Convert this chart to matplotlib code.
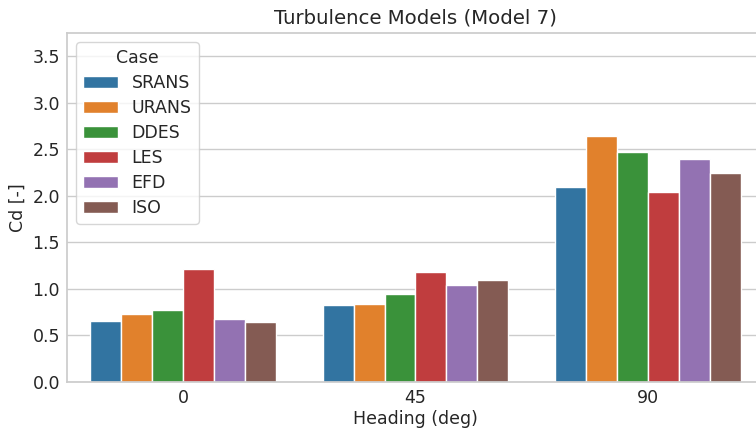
import numpy as np
import pandas as pd
import seaborn as sns
import matplotlib
matplotlib.use("Agg")
import matplotlib.pyplot as plt

headings = [0, 45, 90]
cases = ["SRANS", "URANS", "DDES", "LES", "EFD", "ISO"]
srans = [0.65, 0.83, 2.09]
urans = [0.73, 0.835, 2.64]
ddes = [0.77, 0.94, 2.47]
les = [1.21, 1.18, 2.04]
efd = [0.68, 1.04, 2.40]
iso = [0.645, 1.10, 2.24]

values = [srans, urans, ddes, les, efd, iso]
rows = []
for case, vals in zip(cases, values):
    for h, v in zip(headings, vals):
        rows.append({"Heading (deg)": h, "Cd [-]": v, "Case": case})
df = pd.DataFrame(rows)

sns.set_theme(style="whitegrid")
plt.rcParams['font.family'] = ['DejaVu Sans']

fig = plt.figure(figsize=(7.56, 4.29), dpi=100)
ax = fig.add_axes([0.0886, 0.110, 0.922, 0.813])

sns.barplot(data=df, x="Heading (deg)", y="Cd [-]", hue="Case", hue_order=cases,
            palette="tab10", ax=ax, saturation=0.75, edgecolor="white", linewidth=1)

ax.set_xlim(-0.5, 2.5)
ax.set_ylim(0, 3.75)
ax.set_yticks(np.arange(0, 3.51, 0.5))
ax.tick_params(labelsize=12.5, pad=5, length=0)
ax.set_xlabel("Heading (deg)", fontsize=12.5, labelpad=2)
ax.set_ylabel("Cd [-]", fontsize=12.5, labelpad=4)
ax.set_title("Turbulence Models (Model 7)", fontsize=14.2, pad=7)

leg = ax.legend(title="Case", loc="upper left", fontsize=12.5, title_fontsize=12.5,
                bbox_to_anchor=(0.013, 0.974), borderaxespad=0, labelspacing=0.4)

fig.savefig("out.png", dpi=100)
